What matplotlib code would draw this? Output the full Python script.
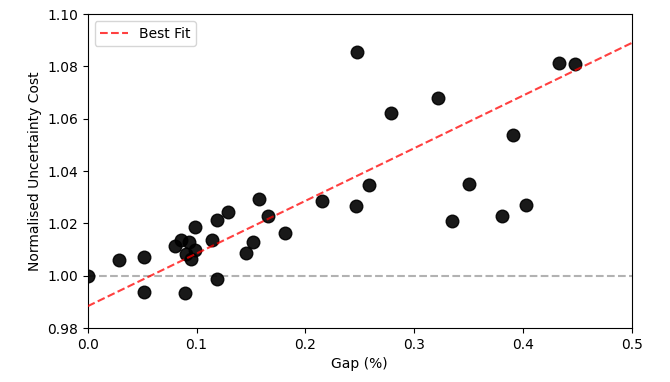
import matplotlib.pyplot as plt
import numpy as np

# Gap (%) and normalised uncertainty cost
gap = [0.000, 0.029, 0.052, 0.052, 0.080, 0.086, 0.093, 0.090, 0.099, 0.095,
       0.099, 0.0895, 0.114, 0.119, 0.129, 0.119, 0.145, 0.152, 0.157, 0.166,
       0.181, 0.2156, 0.2463, 0.2586, 0.2475, 0.2788, 0.322, 0.4329, 0.4479,
       0.3909, 0.3502, 0.3348, 0.3811, 0.4026]
cost = [1.000, 1.006, 1.007, 0.994, 1.0115, 1.0136, 1.0128, 1.0082, 1.0098, 1.0063,
        1.0185, 0.9933, 1.0136, 1.0213, 1.0242, 0.9987, 1.0089, 1.0128, 1.0294, 1.0228,
        1.0163, 1.0287, 1.0266, 1.0347, 1.0856, 1.0624, 1.0678, 1.0815, 1.0808,
        1.0538, 1.0350, 1.0210, 1.0229, 1.0270]

# Best fit line
fit_intercept = 0.9884
fit_slope = 0.2012

fig = plt.figure(figsize=(6.7, 3.82), dpi=100)
ax = fig.add_axes([0.131, 0.141, 0.812, 0.822])

ax.scatter(gap, cost, color='black', s=82, alpha=0.9, zorder=3)
ax.axhline(1.0, color='gray', linestyle='--', alpha=0.6, zorder=1)

x_line = np.linspace(0, 0.5, 100)
ax.plot(x_line, fit_slope * x_line + fit_intercept, 'r--', alpha=0.75,
        linewidth=1.5, label='Best Fit', zorder=4)

ax.set_xlim(0, 0.5)
ax.set_ylim(0.98, 1.10)
ax.set_yticks(np.arange(0.98, 1.101, 0.02))
ax.set_xlabel('Gap (%)')
ax.set_ylabel('Normalised Uncertainty Cost')
ax.legend(loc='upper left')

fig.savefig('out.png', dpi=100)
